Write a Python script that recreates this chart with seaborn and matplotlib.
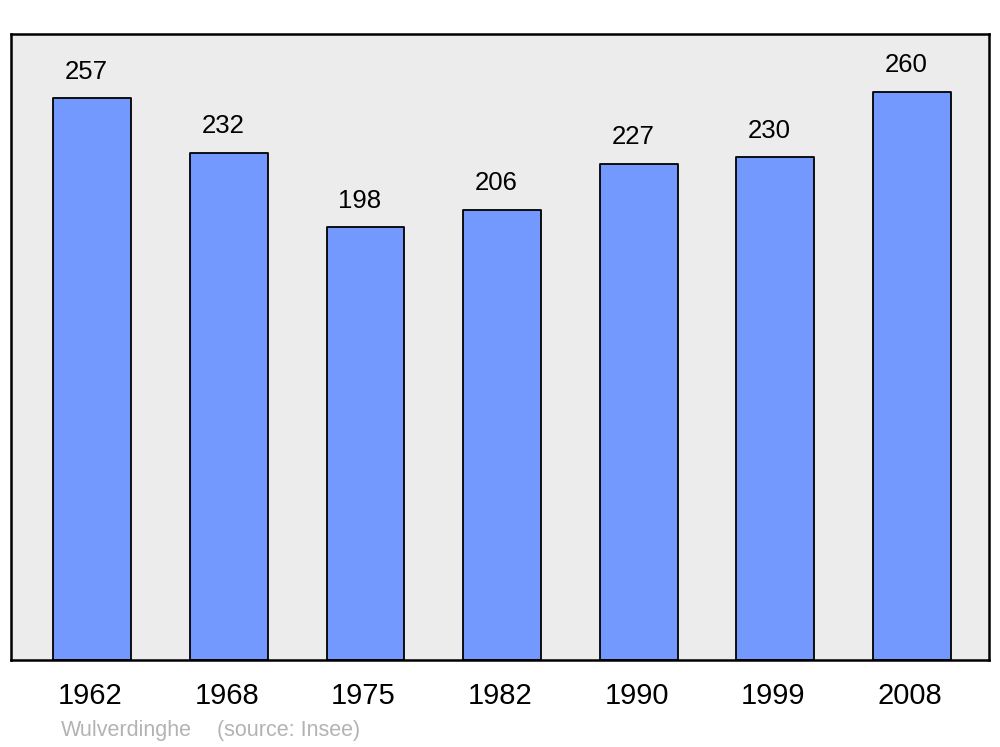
import matplotlib
matplotlib.use("Agg")
import matplotlib.pyplot as plt
import matplotlib.transforms as mtransforms
import seaborn as sns
import pandas as pd

years = ["1962", "1968", "1975", "1982", "1990", "1999", "2008"]
population = [257, 232, 198, 206, 227, 230, 260]
commune = "Wulverdinghe"
source = "(source: Insee)"

sns.set_style("white")
plt.rcParams["font.family"] = ["Liberation Sans", "DejaVu Sans"]

df = pd.DataFrame({"year": years, "pop": population})

fig = plt.figure(figsize=(10, 7.47), dpi=100)
ax = fig.add_axes([0.011, 0.1165, 0.978, 0.838])
ax.set_facecolor("#ececec")

sns.barplot(data=df, x="year", y="pop", color="#7399ff", saturation=1,
            edgecolor="black", linewidth=1.3, width=0.57, ax=ax)

for p, v in zip(ax.patches, population):
    p.set_joinstyle("round")
    ax.annotate(str(v), (p.get_x() + p.get_width() / 2, p.get_height()),
                xytext=(-4, 10.5), textcoords="offset points",
                ha="center", va="bottom", fontsize=18.5, color="black")

ax.set_xlim(-0.595, 6.565)
ax.set_ylim(0, 286.4)
ax.set_yticks([])
ax.set_xlabel("")
ax.set_ylabel("")
ax.tick_params(axis="x", length=0, pad=16, labelsize=21, labelcolor="black")
shift = mtransforms.ScaledTranslation(-2 / 100, 0, fig.dpi_scale_trans)
for lbl in ax.get_xticklabels():
    lbl.set_transform(lbl.get_transform() + shift)
for s in ax.spines.values():
    s.set_visible(True)
    s.set_color("black")
    s.set_linewidth(1.8)
    s.set_joinstyle("round")

fig.text(0.061, 0.0085, commune, color="#b3b3b3",
         fontsize=15.5, ha="left", va="bottom")
fig.text(0.217, 0.0085, source, color="#b3b3b3",
         fontsize=15.5, ha="left", va="bottom")

fig.savefig("out.png", dpi=100)
